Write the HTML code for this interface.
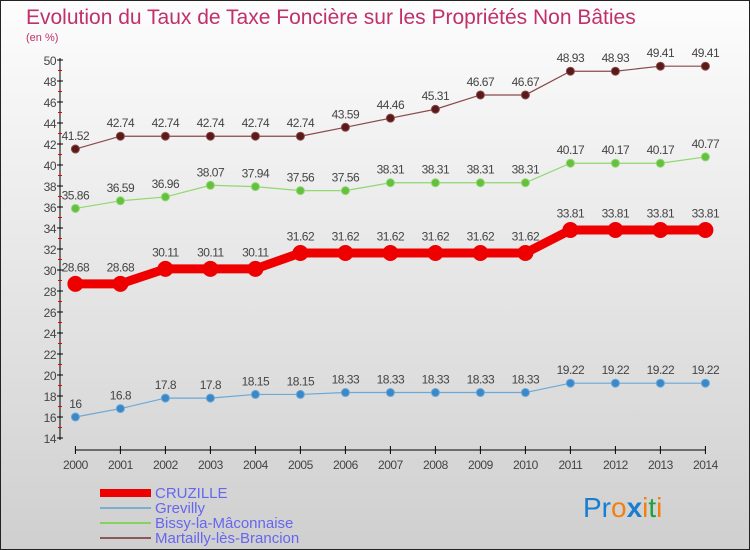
<!DOCTYPE html>
<html><head><meta charset="utf-8"><style>
body{margin:0;width:750px;height:550px;overflow:hidden}
svg{display:block;font-family:"Liberation Sans",sans-serif}
</style></head><body>
<svg width="750" height="550">
<defs><linearGradient id="bg" x1="0" y1="0" x2="0" y2="1"><stop offset="0" stop-color="#fdfdfd"/><stop offset="1" stop-color="#cfcfcf"/></linearGradient></defs>
<rect x="0.5" y="0.5" width="749" height="549" fill="url(#bg)" stroke="#222"/>
<text x="26" y="24" font-size="21" fill="#c0306a">Evolution du Taux de Taxe Foncière sur les Propriétés Non Bâties</text>
<text x="26" y="41" font-size="11" fill="#c0306a">(en %)</text>
<g id="axes"></g>
<g id="series"></g>
<g font-size="15" fill="#6666ee">
<rect x="100" y="489" width="51" height="8" fill="#ee0000"/>
<text x="155" y="498">CRUZILLE</text>
<rect x="100" y="507" width="51" height="2" fill="#7aaed0"/>
<text x="155" y="513">Grevilly</text>
<rect x="100" y="522" width="51" height="2" fill="#88d060"/>
<text x="155" y="528">Bissy-la-Mâconnaise</text>
<rect x="100" y="537" width="51" height="2" fill="#8a5a5a"/>
<text x="155" y="543">Martailly-lès-Brancion</text>
</g>
<text x="583" y="517" font-size="28"><tspan fill="#1a7ed0">Pr</tspan><tspan fill="#f08010">o</tspan><tspan fill="#1a7ed0" font-weight="bold">x</tspan><tspan fill="#f08010">i</tspan><tspan fill="#20a040">t</tspan><tspan fill="#f08010">i</tspan></text>
</svg>
<script>
const years=["2000","2001","2002","2003","2004","2005","2006","2007","2008","2009","2010","2011","2012","2013","2014"];
const cruzille=[28.68,28.68,30.11,30.11,30.11,31.62,31.62,31.62,31.62,31.62,31.62,33.81,33.81,33.81,33.81];
const grevilly=[16,16.8,17.8,17.8,18.15,18.15,18.33,18.33,18.33,18.33,18.33,19.22,19.22,19.22,19.22];
const bissy=[35.86,36.59,36.96,38.07,37.94,37.56,37.56,38.31,38.31,38.31,38.31,40.17,40.17,40.17,40.77];
const martailly=[41.52,42.74,42.74,42.74,42.74,42.74,43.59,44.46,45.31,46.67,46.67,48.93,48.93,49.41,49.41];
const yTicks=[14,16,18,20,22,24,26,28,30,32,34,36,38,40,42,44,46,48,50];
const NS="http://www.w3.org/2000/svg";
function X(i){return 75.4+i*45.0;}
function Y(v){return 438-(v-14)*10.5;}
function mk(t,a,p){const e=document.createElementNS(NS,t);for(const k in a)e.setAttribute(k,a[k]);p.appendChild(e);return e;}
const ax=document.getElementById('axes');
const yl=mk('line',{x1:60,y1:58,x2:60,y2:440,stroke:'#000'},ax);


yTicks.forEach(v=>{
 mk('line',{x1:57,x2:63,y1:Y(v),y2:Y(v),stroke:'#000'},ax);
 if(v<50) mk('line',{x1:58,x2:62,y1:Y(v+1),y2:Y(v+1),stroke:'#e00'},ax);
 const t=mk('text',{x:56,y:Y(v)+5,'text-anchor':'end','font-size':'12',fill:'#444','letter-spacing':'-0.5'},ax);
 t.textContent=v;
 
 
});
const xl=mk('line',{x1:75,y1:450,x2:706,y2:450,stroke:'#000'},ax);


years.forEach((y,i)=>{
 mk('line',{x1:X(i),x2:X(i),y1:446,y2:454,stroke:'#000'},ax);
 const t=mk('text',{x:X(i),y:469,'text-anchor':'middle','font-size':'12',fill:'#444','letter-spacing':'-0.5'},ax);
 t.textContent=y;
 
 
});
const sg=document.getElementById('series');
function draw(vals,name,col,dark,w,r){
 const g=mk('g',{},sg);
 
 
 const pl=mk('polyline',{points:vals.map((v,i)=>X(i)+','+Y(v)).join(' '),fill:'none',stroke:col,'stroke-width':w},g);
 
 
 vals.forEach((v,i)=>{
  const c=mk('circle',{cx:X(i),cy:Y(v),r:r,fill:dark,stroke:col,'stroke-width':1},g);
  
  
  const t=mk('text',{x:X(i),y:Y(v)-(r+5),'text-anchor':'middle','font-size':'12',fill:'#444','letter-spacing':'-0.5'},g);
  t.textContent=String(v);
  
  
 });
}
draw(martailly,'martailly','#8a4a4a','#5a1a1a',1.2,4);
draw(bissy,'bissy','#90d870','#66c040',1.2,4);
draw(cruzille,'cruzille','#ee0000','#ee0000',9,7.5);
draw(grevilly,'grevilly','#6aa8d8','#3a88c8',1.2,4);
</script>
</body></html>
